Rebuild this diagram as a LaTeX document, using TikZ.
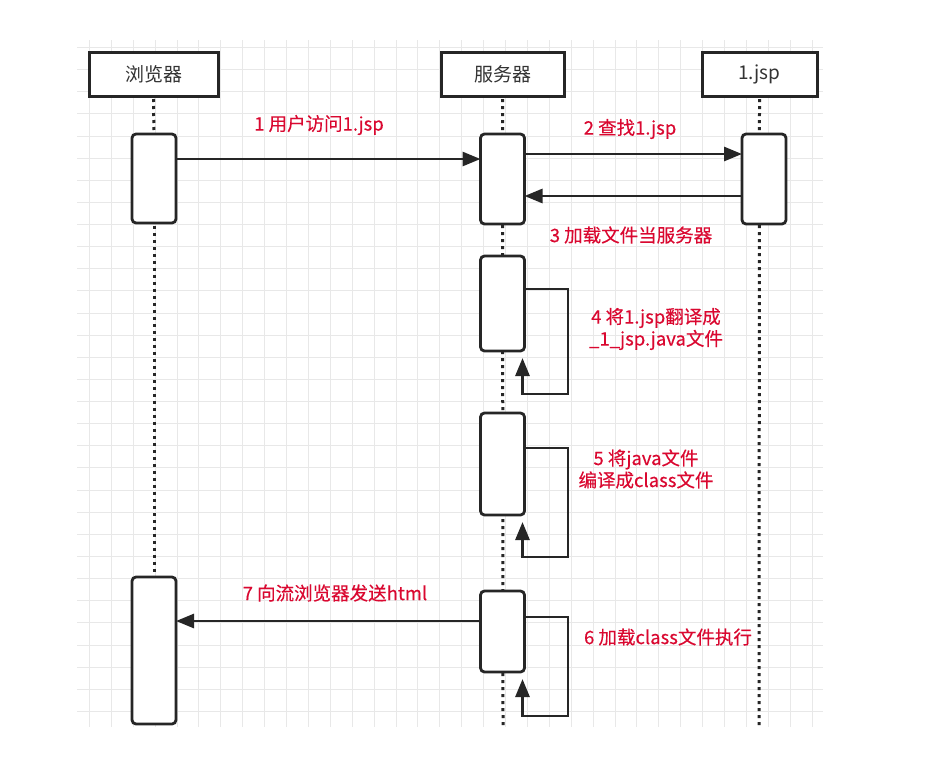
\documentclass[tikz,border=0pt]{standalone}
\usepackage{fontspec}
\setmainfont{Noto Sans CJK SC}
\newfontfamily\labfont{Noto Sans CJK SC}[FakeBold=0.25]
\usetikzlibrary{arrows.meta}
\definecolor{gridc}{RGB}{232,232,232}
\definecolor{linec}{RGB}{38,38,38}
\definecolor{labred}{RGB}{218,8,48}
\definecolor{headtxt}{RGB}{51,51,51}
\tikzset{
  headbox/.style={draw=linec, line width=3pt, fill=white, outer sep=0pt, inner sep=0pt, text=headtxt, font=\fontsize{19}{23}\selectfont},
  actbox/.style={draw=linec, line width=2.8pt, fill=white, rounded corners=4pt, outer sep=0pt, inner sep=0pt, minimum width=44pt},
  lifeline/.style={draw=black!85, line width=3pt, dash pattern=on 3pt off 4pt},
  msg/.style={draw=linec, line width=2.8pt, -{Triangle[length=18pt,width=14pt]}},
  lab/.style={text=labred, font=\labfont\fontsize{18.5}{22}\selectfont, inner sep=0pt, align=center},
  gridline/.style={draw=gridc, line width=1pt},
}
\begin{document}
\begin{tikzpicture}[x=1pt,y=-1pt]
\useasboundingbox (0,0) rectangle (928,764);
\fill[white] (0,0) rectangle (928,764);
% grid
\foreach \k in {0,...,33} { \pgfmathsetmacro\gx{round(89+21.9*\k)+0.5} \draw[gridline] (\gx,40) -- (\gx,727); }
\foreach \k in {0,...,30} { \pgfmathsetmacro\gy{round(47+22.13*\k)+0.5} \draw[gridline] (77,\gy) -- (823,\gy); }
% lifeline end points
\coordinate (btop) at (154,134);
\coordinate (send) at (503,725);
\coordinate (jend) at (759,725);
% heads
\node[headbox, minimum width=129pt, minimum height=44pt] (bh) at (153.5,74) {浏览器};
\node[headbox, minimum width=123pt, minimum height=44pt] (sh) at (502.5,74) {服务器};
\node[headbox, minimum width=115pt, minimum height=44pt] (jh) at (759.5,74) {1.jsp};
% lifelines
\path[lifeline] ([yshift=-3pt]bh.south) -- (btop);
\path[lifeline] ([yshift=-3pt]sh.south) -- (send);
\path[lifeline] ([yshift=-3pt]jh.south) -- (jend);
% activation boxes
\node[actbox, minimum height=89pt] (b1) at (154,178.5) {};
\node[actbox, minimum height=147pt] (b2) at (154,650.5) {};
\path[lifeline] ([yshift=-3pt]b1.south) -- (b2.north);
\node[actbox, minimum height=90pt] (s1) at (502.5,179) {};
\node[actbox, minimum height=95pt] (s2) at (502.5,303.5) {};
\node[actbox, minimum height=102pt] (s3) at (502.5,464) {};
\node[actbox, minimum height=81pt] (s4) at (502.5,631.5) {};
\node[actbox, minimum height=90pt] (j1) at (764,179) {};
% messages
\draw[msg] (b1.east |- 0,159) -- (s1.west |- 0,159);
\draw[msg] (s1.east |- 0,154) -- (j1.west |- 0,154);
\draw[msg] (j1.west |- 0,196) -- (s1.east |- 0,196);
\draw[msg] (s2.east |- 0,289) -| (568,394) -| ([xshift=-2pt,yshift=-7pt]s2.south east);
\draw[msg] (s3.east |- 0,448) -| (568,557) -| ([xshift=-2pt,yshift=-7pt]s3.south east);
\draw[msg] (s4.east |- 0,617) -| (568,716) -| ([xshift=-2pt,yshift=-7pt]s4.south east);
\draw[msg] (s4.west |- 0,621) -- (b2.east |- 0,621);
% labels
\node[lab] (l1) at (319,125) {1 用户访问1.jsp};
\node[lab] (l2) at (630,129) {2 查找1.jsp};
\node[lab] (l3) at (631,235) {3 加载文件当服务器};
\node[lab] (l4) at (656,329) {4 将1.jsp翻译成\\\_1\_jsp.java文件};
\node[lab] (l5) at (646,469) {5 将java文件\\编译成class文件};
\node[lab] (l6) at (668,637) {6 加载class文件执行};
\node[lab] (l7) at (335,593) {7 向流浏览器发送html};
\end{tikzpicture}
\end{document}
